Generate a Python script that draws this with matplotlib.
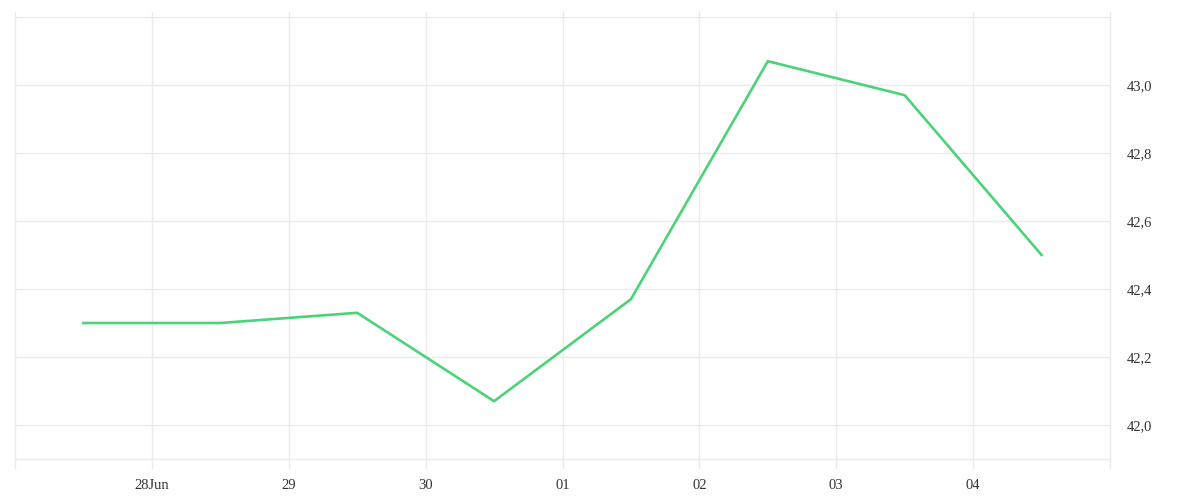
import numpy as np
import matplotlib
matplotlib.use("Agg")
from matplotlib import pyplot as plt
import matplotlib.dates as mdates

# datos (valor al mediodia de cada dia)
fechas = np.array(['2023-06-27T12', '2023-06-28T12', '2023-06-29T12', '2023-06-30T12',
                   '2023-07-01T12', '2023-07-02T12', '2023-07-03T12', '2023-07-04T12'],
                  dtype='datetime64[h]')
valores = [42.30, 42.30, 42.33, 42.07, 42.37, 43.07, 42.97, 42.50]

dias = np.arange(np.datetime64('2023-06-27'), np.datetime64('2023-07-06'), dtype='datetime64[D]')
etiquetasX = ['', '28Jun', '29', '30', '01', '02', '03', '04', '']
ticksY = [42.0, 42.2, 42.4, 42.6, 42.8, 43.0]
etiquetasY = ['42,0', '42,2', '42,4', '42,6', '42,8', '43,0']

plt.rcParams['font.family'] = ['Liberation Serif', 'DejaVu Serif']
gris = '#ebebeb'

fig = plt.figure(figsize=(12, 5), dpi=100)
ax = fig.add_axes([15/1200, 32/500, 1095/1200, 456/500])

xs = mdates.date2num(fechas.astype('datetime64[s]').astype(object))
xd = mdates.date2num(dias.astype('datetime64[s]').astype(object))

ax.plot(xs, valores, color='#4cd37a', linewidth=1.9, zorder=3)

ax.set_xlim(xd[0], xd[-1])
ax.set_ylim(43.2 - 456/340 + 5/340, 43.2 + 5/340)

ax.set_xticks(xd)
ax.set_xticklabels(etiquetasX)
ax.set_yticks(ticksY)
ax.set_yticklabels(etiquetasY)
ax.yaxis.tick_right()
ax.tick_params(axis='both', length=0, labelsize=10.5, colors='#333333')
ax.tick_params(axis='x', pad=8)
ax.tick_params(axis='y', pad=12)

for v in ticksY + [43.2, 41.9]:
    ax.axhline(v, color=gris, linewidth=1, zorder=1)
for d in xd:
    ax.axvline(d, color=gris, linewidth=1, zorder=1, clip_on=False)

for s in ax.spines.values():
    s.set_visible(False)

plt.savefig('out.png', dpi=100)
